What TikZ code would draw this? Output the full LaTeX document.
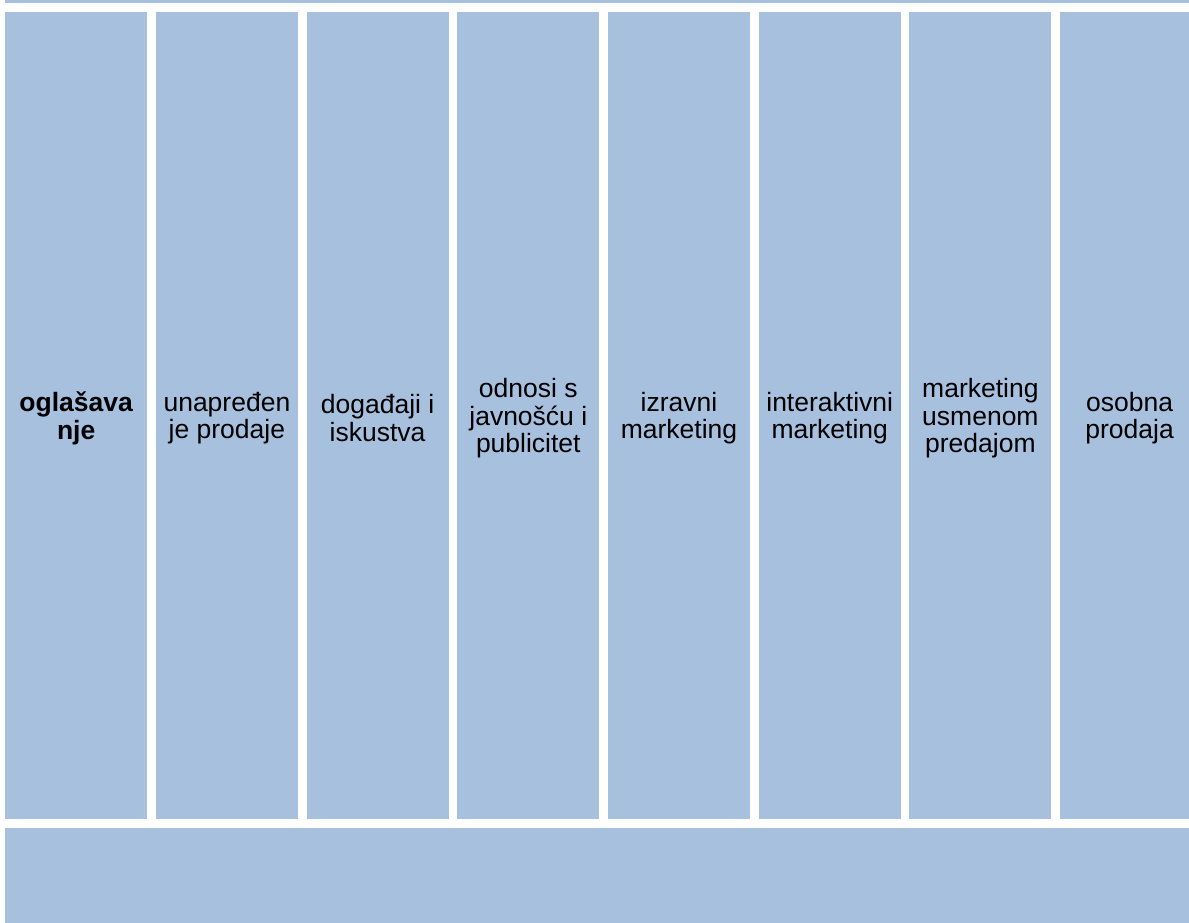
\documentclass[tikz,border=0pt]{standalone}
\usepackage{fontspec}
\setmainfont{Liberation Sans}
\definecolor{boxblue}{HTML}{A7C0DE}
\begin{document}
\begin{tikzpicture}[x=1pt,y=-1pt,
  colbox/.style={fill=boxblue, draw=none, inner sep=0pt, anchor=north west,
    minimum width=142pt, minimum height=807pt},
  coltext/.style={inner sep=0pt, align=center, yshift=-2.5pt,
    font=\fontsize{26.5}{27.8}\selectfont},
  barbox/.style={fill=boxblue, draw=none, inner sep=0pt, anchor=north west}]
\useasboundingbox (0,0) rectangle (1189,923);
\clip (0,0) rectangle (1189,923);
\node[barbox, minimum width=1200pt, minimum height=13pt] (top) at (5,-10) {};
\node[barbox, minimum width=1200pt, minimum height=105pt] (bottom) at (5,828) {};
\node[colbox] (c1) at (5,12) {};
\node[colbox] (c2) at (155.7,12) {};
\node[colbox] (c3) at (306.4,12) {};
\node[colbox] (c4) at (457.1,12) {};
\node[colbox] (c5) at (607.8,12) {};
\node[colbox] (c6) at (758.5,12) {};
\node[colbox] (c7) at (909.2,12) {};
\node[colbox] (c8) at (1059.9,12) {};
\node[coltext] (t1) at (c1.center) {\textbf{oglašava}\\\textbf{nje}};
\node[coltext] (t2) at (c2.center) {unapređen\\je prodaje};
\node[coltext] (t3) at (c3.center) {događaji i\\iskustva};
\node[coltext] (t4) at (c4.center) {odnosi s\\javnošću i\\publicitet};
\node[coltext] (t5) at (c5.center) {izravni\\marketing};
\node[coltext] (t6) at (c6.center) {interaktivni\\marketing};
\node[coltext] (t7) at (c7.center) {marketing\\usmenom\\predajom};
\node[coltext, xshift=-1.5pt] (t8) at (c8.center) {osobna\\prodaja};
\end{tikzpicture}
\end{document}
